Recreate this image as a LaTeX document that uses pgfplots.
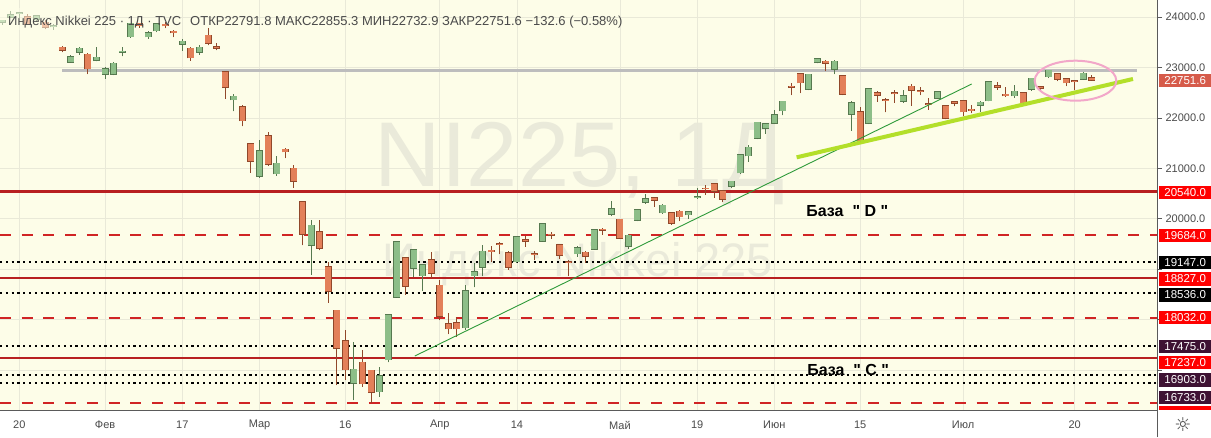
\documentclass[border=0pt]{standalone}
\usepackage{pgfplots}
\pgfplotsset{compat=1.18}
\usepackage{pgfplotstable}
\usepackage{fontspec}
\setmainfont{Liberation Sans}[Ligatures=TeXOff]
\newfontfamily\dejavu{DejaVu Sans}
\newcommand\fs[1]{\fontsize{#1}{#1}\selectfont}

\definecolor{bgc}{HTML}{FDFDE8}
\definecolor{gridc}{HTML}{E9E9D8}
\definecolor{upf}{HTML}{8DBE88}
\definecolor{upl}{HTML}{56794F}
\definecolor{dnf}{HTML}{E38059}
\definecolor{dnl}{HTML}{91482A}
\definecolor{lvlred}{HTML}{B82020}
\definecolor{dashred}{HTML}{D02424}
\definecolor{greyline}{HTML}{BDBDBD}
\definecolor{trendg}{HTML}{2E9A3A}
\definecolor{limec}{HTML}{B3DF2A}
\definecolor{pinkc}{HTML}{F2A7C9}
\definecolor{purp}{HTML}{3E1233}
\definecolor{lastred}{HTML}{D65B4A}
\definecolor{wm}{HTML}{EAEADA}
\definecolor{txt}{HTML}{4A4A4A}
\definecolor{axc}{HTML}{5A5A5A}

% up candles (close >= open)
\pgfplotstableread{
i o h l c
-2 23900 23940 23850 23933
-1 24000 24115 23980 24041
0 24080 24090 23990 24083
2 23950 24040 23910 24031
4 23810 23860 23750 23827
6 23110 23250 23100 23215
7 23300 23400 23250 23379
9 23140 23410 23120 23205
10 22870 23010 22775 22972
11 22870 23100 22850 23085
12 23300 23400 23220 23320
13 23610 23880 23590 23874
15 23610 23720 23575 23686
16 23730 23870 23700 23861
19 23460 23560 23335 23523
21 23300 23450 23250 23401
25 22360 22480 22130 22426
28 20840 21560 20810 21344
30 20890 21240 20850 21100
34 19470 19980 18890 19867
39 16740 17550 16400 17011
42 16570 17065 16470 16888
43 17200 18100 17150 18092
44 18440 19560 18430 19547
46 19020 19390 18850 19389
47 18870 19100 18570 19085
52 17840 18680 17800 18576
53 18870 19115 18640 18950
54 19040 19470 18860 19353
58 19150 19650 19130 19639
61 19560 19920 19550 19897
65 19310 19460 19250 19429
67 19395 19800 19390 19783
69 20090 20350 20050 20194
71 19450 19700 19400 19675
72 19975 20200 19950 20179
73 20330 20490 20300 20391
75 20120 20300 20100 20267
78 20080 20160 20000 20134
79 20420 20600 20400 20433
83 20640 20750 20600 20742
84 20910 21290 20890 21271
85 21250 21470 21130 21419
86 21600 21925 21580 21916
87 21800 21900 21690 21878
88 21900 22160 21880 22062
89 22140 22340 22050 22326
92 22570 22880 22550 22864
93 23100 23190 23080 23178
95 22970 23150 22870 23125
97 22070 22330 21750 22305
99 21890 22590 21880 22582
103 22330 22550 22300 22437
107 22390 22540 22370 22512
112 22255 22330 22120 22306
113 22340 22720 22330 22714
116 22440 22660 22400 22529
118 22570 22790 22540 22785
120 22820 22960 22800 22946
124 22770 22916 22760 22884
}\up

% down candles (close < open)
\pgfplotstableread{
i o h l c
1 24010 24070 23860 23864
3 23900 23950 23760 23795
5 23400 23430 23300 23343
8 23260 23290 22870 22977
14 23880 23890 23790 23828
17 23860 23900 23780 23828
18 23720 23740 23600 23688
20 23380 23400 23130 23194
22 23640 23780 23440 23479
23 23410 23480 23340 23387
24 22910 22930 22380 22605
26 22220 22260 21830 21948
27 21490 21500 20916 21143
29 21640 21720 21050 21083
31 21380 21399 21200 21329
32 21000 21060 20610 20750
33 20330 20347 19472 19699
35 19740 19975 19370 19416
36 19050 19147 18334 18560
37 18180 18180 16700 17431
38 17580 17790 16800 17002
40 17150 17390 16670 16727
41 16990 17000 16350 16553
45 19230 19250 18490 18665
48 19180 19345 18820 18917
49 18680 18785 17990 18065
50 17920 18125 17710 17819
51 17940 18060 17660 17820
55 19375 19460 19150 19346
56 19500 19540 19300 19498
57 19320 19360 18990 19043
59 19580 19660 19445 19550
60 19300 19360 19180 19290
62 19690 19740 19600 19669
63 19480 19500 19210 19281
64 19150 19180 18860 19138
66 19330 19350 19130 19262
68 19790 19820 19680 19771
70 19990 20000 19600 19619
74 20410 20420 20240 20366
76 20120 20140 19880 19915
77 20150 20180 19950 20037
80 20600 20660 20480 20595
81 20690 20710 20420 20552
82 20550 20560 20330 20388
90 22630 22700 22450 22614
91 22870 22880 22490 22696
94 23120 23150 22930 23091
96 22830 22860 22450 22473
98 22120 22220 21530 21531
100 22500 22530 22320 22456
101 22360 22400 22110 22355
102 22500 22560 22300 22479
104 22630 22680 22240 22549
105 22540 22620 22450 22534
106 22280 22390 22160 22260
108 22240 22250 21970 21995
109 22320 22340 22230 22288
110 22340 22360 22030 22122
111 22170 22260 22090 22146
114 22640 22720 22560 22615
115 22470 22620 22420 22439
117 22500 22510 22270 22291
119 22620 22640 22520 22587
121 22880 22900 22730 22770
122 22780 22800 22630 22696
123 22740 22750 22550 22717
125 22791.8 22855.3 22732.9 22751.6
}\dn

\begin{document}
\begin{tikzpicture}[lab/.style={anchor=west, xshift=2pt, minimum width=52pt, minimum height=13.5pt, inner sep=0pt, text=white, font=\fs{11.5}}]
\useasboundingbox (0pt,0pt) rectangle (1211pt,437pt);
\fill[white] (0pt,0pt) rectangle (1211pt,437pt);
\fill[bgc] (0pt,27pt) rectangle (1157pt,437pt);
% watermark
\node[anchor=base, text=wm, inner sep=0pt, font=\fs{92}] at (580pt,250pt) {NI225, 1Д};
\node[anchor=base, text=wm, inner sep=0pt, font=\fs{47}] at (578pt,160pt) {Индекс Nikkei 225};

\begin{axis}[
  at={(0pt,27pt)}, anchor=south west,
  scale only axis, width=1157pt, height=410pt,
  xmin=-2.25, xmax=132.6, ymin=16205.6, ymax=24338.8,
  clip=false,
  axis x line*=bottom, axis y line*=right,
  axis line style={draw=axc, line width=1pt},
  xtick={0,10,19,28,38,49,58,70,79,88,98,110,123},
  xticklabels={20,Фев,17,Мар,16,Апр,14,Май,19,Июн,15,Июл,20},
  ytick={17000,18000,...,24000},
  yticklabels={,,,20000.0,21000.0,22000.0,23000.0,24000.0},
  xtick align=inside, ytick align=outside,
  major tick length=5pt,
  xtick style={draw=none},
  ytick style={draw=axc, line width=0.8pt},
  grid=major, grid style={draw=gridc, line width=0.8pt},
  tick label style={font=\fs{11}, text=txt},
  xticklabel style={anchor=center, yshift=-15pt},
  yticklabel style={anchor=west},
  candle/.style={only marks, mark=*, mark size=0pt, mark options={draw=none, fill=none}},
]
% horizontal levels
\addplot[greyline, line width=3pt] coordinates {(5.0,22950) (130.3,22950)};
\addplot[lvlred, line width=2.2pt] coordinates {(-2.25,20540) (132.6,20540)};
\addplot[lvlred, line width=2.2pt] coordinates {(-2.25,18827) (132.6,18827)};
\addplot[lvlred, line width=2.2pt] coordinates {(-2.25,17237) (132.6,17237)};
\addplot[dashred, line width=2.2pt, dash pattern=on 11pt off 10.7pt] coordinates {(-2.25,19684) (132.6,19684)};
\addplot[dashred, line width=2.2pt, dash pattern=on 11pt off 10.7pt] coordinates {(-2.25,18032) (132.6,18032)};
\addplot[dashred, line width=2.2pt, dash pattern=on 11pt off 10.7pt] coordinates {(-2.25,16343) (132.6,16343)};
\addplot[black, line width=2pt, dash pattern=on 2.2pt off 3.6pt] coordinates {(-2.25,19147) (132.6,19147)};
\addplot[black, line width=2pt, dash pattern=on 2.2pt off 3.6pt] coordinates {(-2.25,18536) (132.6,18536)};
\addplot[black, line width=2pt, dash pattern=on 2.2pt off 3.6pt] coordinates {(-2.25,17475) (132.6,17475)};
\addplot[black, line width=2pt, dash pattern=on 2.2pt off 3.6pt] coordinates {(-2.25,16903) (132.6,16903)};
\addplot[black, line width=2pt, dash pattern=on 2.2pt off 3.6pt] coordinates {(-2.25,16733) (132.6,16733)};

% wicks
\addplot[candle, error bars/.cd, y dir=plus, y explicit, error mark=none,
  error bar style={draw=upl, line width=1pt}]
  table[x=i, y=l, y error expr=\thisrow{h}-\thisrow{l}] {\up};
\addplot[candle, error bars/.cd, y dir=plus, y explicit, error mark=none,
  error bar style={draw=dnl, line width=1pt}]
  table[x=i, y=l, y error expr=\thisrow{h}-\thisrow{l}] {\dn};
% body outlines
\addplot[candle, error bars/.cd, y dir=plus, y explicit, error mark=none,
  error bar style={draw=upl, line width=7pt}]
  table[x=i, y expr=\thisrow{o}-12, y error expr=\thisrow{c}-\thisrow{o}+24] {\up};
\addplot[candle, error bars/.cd, y dir=plus, y explicit, error mark=none,
  error bar style={draw=dnl, line width=7pt}]
  table[x=i, y expr=\thisrow{c}-12, y error expr=\thisrow{o}-\thisrow{c}+24] {\dn};
% body fills
\addplot[candle, error bars/.cd, y dir=plus, y explicit, error mark=none,
  error bar style={draw=upf, line width=5.6pt}]
  table[x=i, y=o, y error expr=\thisrow{c}-\thisrow{o}] {\up};
\addplot[candle, error bars/.cd, y dir=plus, y explicit, error mark=none,
  error bar style={draw=dnf, line width=5.6pt}]
  table[x=i, y=c, y error expr=\thisrow{o}-\thisrow{c}] {\dn};

% trend lines
\addplot[trendg, line width=0.9pt] coordinates {(46.1,17277) (111.0,22672)};
\addplot[limec, line width=4pt] coordinates {(90.6,21218) (129.8,22772)};
\draw[pinkc, line width=2pt] (axis cs:123.1,22738) ellipse [x radius=40.8pt, y radius=20pt];

% annotations
\node[font=\bfseries\fs{16}, text=black] at (axis cs:96.5,20153) {База~~"~D~"};
\node[font=\bfseries\fs{16}, text=black] at (axis cs:96.6,16999) {База~~"~C~"};

% price-scale labels
\node[lab, fill=lastred] at (axis cs:132.6,22742) {22751.6};
\node[lab, fill=red] at (axis cs:132.6,20524) {20540.0};
\node[lab, fill=red] at (axis cs:132.6,19663) {19684.0};
\node[lab, fill=black] at (axis cs:132.6,19135) {19147.0};
\node[lab, fill=red] at (axis cs:132.6,18804) {18827.0};
\node[lab, fill=black] at (axis cs:132.6,18487) {18536.0};
\node[lab, fill=red] at (axis cs:132.6,18044) {18032.0};
\node[lab, fill=purp] at (axis cs:132.6,17461) {17475.0};
\node[lab, fill=red] at (axis cs:132.6,17152) {17237.0};
\node[lab, fill=purp] at (axis cs:132.6,16801) {16903.0};
\node[lab, fill=purp] at (axis cs:132.6,16458) {16733.0};
\fill[red] ([xshift=2pt]axis cs:132.6,16205.6) rectangle ([xshift=54pt,yshift=4pt]axis cs:132.6,16205.6);
\end{axis}

% title / legend
\fill[bgc, fill opacity=0.55] (0pt,407pt) rectangle (60pt,429pt);
\node[anchor=base west, inner sep=0pt, text=txt, font=\fs{13}] at (8pt,411pt) {Индекс Nikkei 225 · 1Д · TVC};
\node[anchor=base west, inner sep=0pt, text=txt, font=\fs{13}] at (190pt,411pt) {ОТКР22791.8 МАКС22855.3 МИН22732.9 ЗАКР22751.6 −132.6 (−0.58\%)};
% price scale separator and settings icon
\draw[axc, line width=1pt] (1157pt,0pt) -- (1157pt,27pt);
\node[font=\dejavu\fs{19}, text=txt] at (1183pt,12pt) {☼};
\end{tikzpicture}
\end{document}
